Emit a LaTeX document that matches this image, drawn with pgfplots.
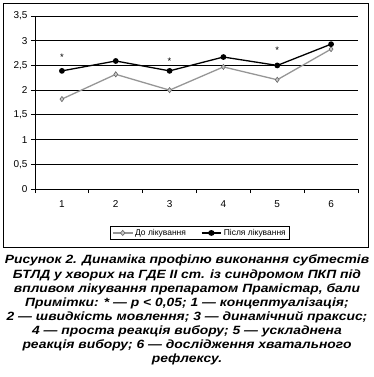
\documentclass[border=0pt]{standalone}
\usepackage{fontspec}
\setmainfont{Liberation Sans}
\newfontfamily\capfont[FakeStretch=1.16]{Liberation Sans}
\usepackage{pgfplots}
\pgfplotsset{compat=1.18}
\definecolor{gline}{RGB}{150,150,150}
\definecolor{gfill}{RGB}{200,200,200}
\begin{document}
\begin{tikzpicture}[x=1bp,y=1bp]
\useasboundingbox (-35,-188) rectangle (339,189);
\draw[line width=0.9bp] (-32,-58) rectangle (333,186);
\begin{axis}[
  at={(0,0)}, anchor=south west,
  scale only axis, width=323bp, height=173bp,
  xmin=0.5, xmax=6.5, ymin=0, ymax=3.5,
  axis x line*=bottom, axis y line*=left,
  axis line style={line width=0.8bp},
  xtick={1,...,6}, major x tick style={draw=none},
  minor xtick={0.5,1.5,...,6.5},
  ytick={0,0.5,...,3.5},
  tick align=outside, major tick length=4bp, minor tick length=4bp,
  tick style={black, line width=0.8bp},
  ymajorgrids, grid style={black, line width=0.8bp},
  /pgf/number format/assume math mode=true,
  /pgf/number format/use comma, /pgf/number format/fixed,
  ticklabel style={font=\fontsize{10}{11}\selectfont},
  xticklabel style={yshift=-4bp},
  legend columns=2,
  legend style={at={(0.511,-0.254)}, anchor=center, draw=black, line width=0.6bp,
    font=\fontsize{8.5}{10}\selectfont, inner xsep=2bp, inner ysep=0.5bp,
    /tikz/every even column/.append style={column sep=13bp}},
  legend image post style={xscale=1.15},
  legend cell align=left,
]
\addplot[gline, line width=1.3bp, mark=diamond*, mark size=2.6bp,
  mark options={fill=gfill, draw=gray!80!black, line width=0.6bp}]
  coordinates {(1,1.82) (2,2.32) (3,2.00) (4,2.47) (5,2.21) (6,2.83)};
\addlegendentry{До лікування}
\addplot[black, line width=1.3bp, mark=*, mark size=2.2bp]
  coordinates {(1,2.39) (2,2.59) (3,2.39) (4,2.67) (5,2.50) (6,2.93)};
\addlegendentry{Після лікування}
\addplot[only marks, mark=none, nodes near coords={*}, forget plot,
  nodes near coords style={font=\fontsize{9.5}{10}\selectfont, anchor=center, yshift=0pt}]
  coordinates {(1,2.66) (3,2.58) (5,2.80)};
\end{axis}
\node[anchor=north, align=center, inner sep=0pt, font=\capfont\fontsize{12}{14.2}\selectfont\bfseries\itshape]
  at (152,-66) {Рисунок 2. Динаміка профілю виконання субтестів\\
БТЛД у хворих на ГДЕ ІІ ст. із синдромом ПКП під\\
впливом лікування препаратом Прамістар, бали\\
Примітки: * — p < 0,05; 1 — концептуалізація;\\
2 — швидкість мовлення; 3 — динамічний праксис;\\
4 — проста реакція вибору; 5 — ускладнена\\
реакція вибору; 6 —  дослідження хватального\\
рефлексу.};
\end{tikzpicture}
\end{document}
